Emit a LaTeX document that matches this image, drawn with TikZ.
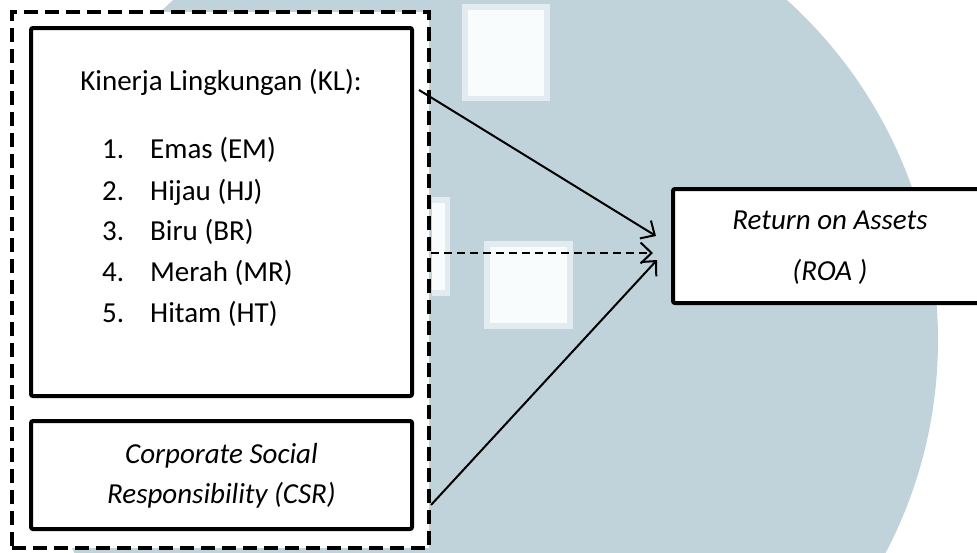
\documentclass[tikz,border=0pt]{standalone}
\usepackage{fontspec}
\setmainfont{Carlito}
\usepackage{tikz}
\usetikzlibrary{arrows.meta}
\definecolor{wmark}{RGB}{192,211,218}
\definecolor{wfringe}{RGB}{226,236,240}
\definecolor{wcore}{RGB}{249,252,253}

\begin{document}
\begin{tikzpicture}[x=1pt,y=-1pt,
  box/.style={draw=black, fill=white, line width=4pt, rounded corners=2pt, inner sep=0pt},
  txt/.style={font=\fontsize{29}{40}\selectfont, inner sep=0pt},
  arr/.style={line width=2pt, -{Straight Barb[length=11pt,width=21pt]}}]
\clip (0,0) rectangle (977,552);
%背景%
\fill[wmark] (480,340) circle (458);
\fill[wfringe] (462,4) rectangle (550,101);
\fill[wcore] (468,10) rectangle (544,96);
\fill[wfringe] (484,241) rectangle (573,329);
\fill[wcore] (490,247) rectangle (567,323);
\fill[wfringe] (432,197) rectangle (450,296);
\fill[wcore] (432,203) rectangle (445,290);
%点線の枠%
\node[box, rounded corners=0pt, dash pattern=on 14pt off 7pt,
  minimum width=417pt, minimum height=536pt] (grp) at (220.5,280) {};
%KL%
\node[box, minimum width=381pt, minimum height=368pt] (kl) at (221.5,212) {};
\node[txt, anchor=base] (kltitle) at (221,90) {Kinerja Lingkungan (KL):};
\node[txt, anchor=base west] (n1) at (102,158) {1.};
\node[txt, anchor=base west] (em) at (150,158) {Emas (EM)};
\node[txt, anchor=base west] (n2) at (102,200) {2.};
\node[txt, anchor=base west] (hj) at (150,200) {Hijau (HJ)};
\node[txt, anchor=base west] (n3) at (102,240) {3.};
\node[txt, anchor=base west] (br) at (150,240) {Biru (BR)};
\node[txt, anchor=base west] (n4) at (102,281) {4.};
\node[txt, anchor=base west] (mr) at (150,281) {Merah (MR)};
\node[txt, anchor=base west] (n5) at (102,322) {5.};
\node[txt, anchor=base west] (ht) at (150,322) {Hitam (HT)};
%CSR%
\node[box, minimum width=381pt, minimum height=108pt] (csrbox) at (221.5,475) {};
\node[txt, font=\itshape\fontsize{29}{40}\selectfont, align=center] (csr) at (221.5,476)
  {Corporate Social\\Responsibility (CSR)};
%ROA%
\node[box, minimum width=317pt, minimum height=114pt] (roabox) at (831.5,246) {};
\node[txt, font=\itshape\fontsize{29}{51}\selectfont, align=center] (roa) at (830,248)
  {Return on Assets\\(ROA )};
%矢印%
\coordinate (tipkl) at ([xshift=-15pt,yshift=10pt]roabox.west);
\coordinate (tipmid) at ([xshift=-18pt,yshift=-7pt]roabox.west);
\coordinate (tipcsr) at ([xshift=-14pt,yshift=-14pt]roabox.west);
\draw[arr] ([xshift=5pt]kl.east |- kltitle.base) -- (tipkl);
\draw[arr, dash pattern=on 8pt off 5pt] (grp.east |- tipmid) -- (tipmid);
\draw[arr] ([yshift=-30pt]grp.east |- csrbox.center) -- (tipcsr);
\end{tikzpicture}
\end{document}
